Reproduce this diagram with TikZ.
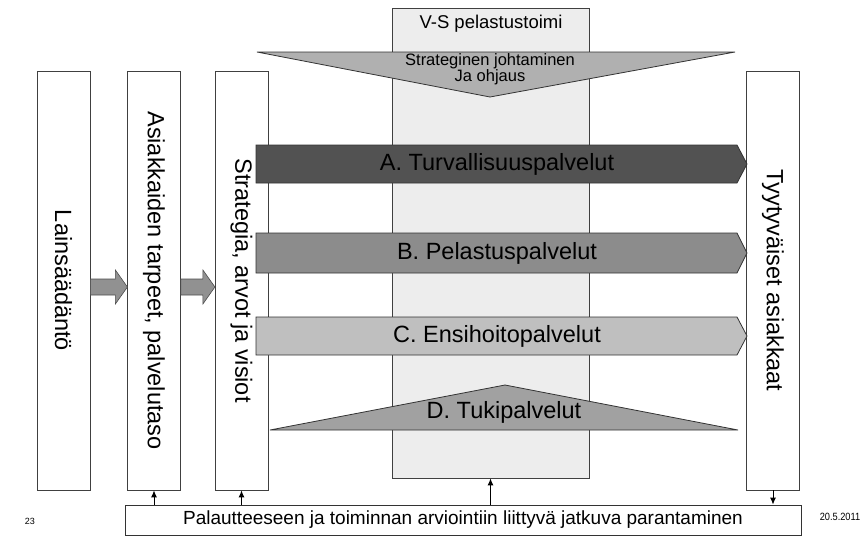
\documentclass[tikz,border=0pt]{standalone}
\usepackage{fontspec}
\setmainfont{Liberation Sans}
\newfontfamily\narrowfont[FakeStretch=0.88]{Liberation Sans}
\usetikzlibrary{calc,arrows.meta}

\begin{document}
\begin{tikzpicture}[x=1pt,y=-1pt,
  colbox/.style={draw=black!75, line width=0.8pt, fill=white,
    minimum width=53pt, minimum height=419pt, inner sep=0pt},
  coltext/.style={rotate=-90, font=\fontsize{23.5}{26}\selectfont},
  band/.style={draw=black!80, line width=0.8pt},
  bandtext/.style={font=\fontsize{23.5}{26}\selectfont},
  blk/.style={draw=black!70, fill=black!43, line width=0.6pt},
  fbarrow/.style={-{Latex[length=7pt,width=6pt]}, line width=1pt},
]
\useasboundingbox (0,0) rectangle (866,536);

% organisation column in the middle
\node[draw=black!75, line width=0.8pt, fill=black!7,
  minimum width=197pt, minimum height=470pt] (vs) at (490.5,243) {};
\node[font=\fontsize{18.5}{20}\selectfont] (vst) at (491,24) {V-S pelastustoimi};

% vertical columns
\node[colbox] (law) at (63.5,280.5) {};
\node[coltext] (lawt) at (law.center) {Lainsäädäntö};
\node[colbox] (tar) at (154,280.5) {};
\node[coltext] (tart) at (tar.center) {Asiakkaiden tarpeet, palvelutaso};
\node[colbox] (str) at (241.5,280.5) {};
\node[coltext] (strt) at (str.center) {Strategia, arvot ja visiot};
\node[colbox] (sat) at (773,280.5) {};
\node[coltext] (satt) at (sat.center) {Tyytyväiset asiakkaat};

% strategic management wedge
\draw[band, fill=black!31] (257,52) -- (735,52) -- (490,97) -- cycle;
\node[font=\fontsize{16.5}{16.5}\selectfont, align=center]
  (sj) at (490,69) {Strateginen johtaminen\\Ja ohjaus};

% service lines
\draw[band, fill=black!68] (256,145) -- (737,145) -- (747,164) -- (737,183) -- (256,183) -- cycle;
\node[bandtext] (a) at (497,164) {A. Turvallisuuspalvelut};
\draw[band, fill=black!45] (256,233) -- (737,233) -- (747,253) -- (737,273) -- (256,273) -- cycle;
\node[bandtext] (b) at (497,253) {B. Pelastuspalvelut};
\draw[band, fill=black!25] (256,317) -- (737,317) -- (747,336) -- (737,355) -- (256,355) -- cycle;
\node[bandtext] (c) at (497,336) {C. Ensihoitopalvelut};

% support services wedge
\draw[band, fill=black!37] (270,430) -- (738,430) -- (505,385) -- cycle;
\node[bandtext] (d) at (504,412) {D. Tukipalvelut};

% continuous improvement bar
\node[draw=black!80, line width=0.8pt, fill=white, minimum width=676pt,
  minimum height=30pt, font=\fontsize{19}{20}\selectfont] (fb) at (463,520)
  {Palautteeseen ja toiminnan arviointiin liittyvä jatkuva parantaminen};

\draw[fbarrow] (fb.north -| tar.south) -- (tar.south);
\draw[fbarrow] (fb.north -| str.south) -- (str.south);
\draw[fbarrow] (fb.north -| vs.south) -- (vs.south);
\draw[fbarrow] (sat.south) -- (fb.north -| sat.south);

% block arrows between the first columns
\draw[blk] ($(law.east)+(0,-1.5)$) -- ++(25,0) -- ++(0,-9) -- ++(12,17)
  -- ++(-12,17) -- ++(0,-9) -- ++(-25,0) -- cycle;
\draw[blk] ($(tar.east)+(0,-1.5)$) -- ++(22,0) -- ++(0,-9) -- ++(12,17)
  -- ++(-12,17) -- ++(0,-9) -- ++(-22,0) -- cycle;

% page number and date
\node[font=\fontsize{9}{9}\selectfont] (pg) at (30,521) {23};
\node[font=\narrowfont\fontsize{10.5}{10}\selectfont] (dt) at (840,517) {20.5.2011};
\end{tikzpicture}
\end{document}
